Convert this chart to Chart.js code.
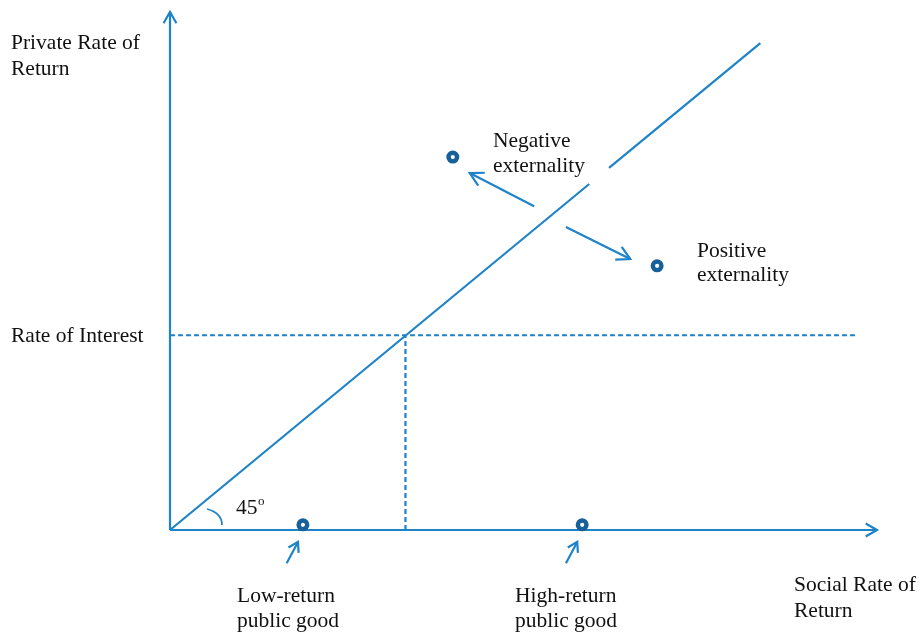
<!DOCTYPE html>
<html>
<head>
<meta charset="utf-8">
<script src="https://cdn.jsdelivr.net/npm/chart.js@4.4.0/dist/chart.umd.min.js"></script>
<style>
html,body{margin:0;padding:0;background:#fff;}
canvas{display:block;}
</style>
</head>
<body>
<canvas id="c" width="919" height="635"></canvas>
<script>
// ---- data (abstract units, axes run 0..100) ----
const diagX = [0, 59.3, null, 62.1, 83.5];
const diagY = [0, 66.8, null, 69.9, 94.0];
const interestRate = 37.6;
const interestEndX = 97.0;
const interestCrossX = 33.3;
const pointX = [40.0, 68.9, 18.8, 58.3];
const pointY = [72.0, 51.0, 1.0, 1.0];
const pointNames = ['Negative externality', 'Positive externality', 'Low-return public good', 'High-return public good'];
// arrows: tail -> head
const arrowTailX = [51.5, 56.0, 16.5, 56.0];
const arrowTailY = [62.5, 58.5, -6.4, -6.4];
const arrowHeadX = [42.4, 65.1, 18.1, 57.6];
const arrowHeadY = [68.9, 52.3, -2.3, -2.3];
const axisMax = 100;

const LINE = '#1f83c8';
const DOT = '#17609a';
const FONT = '21.5px "Liberation Serif", "Times New Roman", serif';

function xy(xs, ys) { return xs.map((x, i) => (x === null ? {x: null, y: null} : {x: x, y: ys[i]})); }

function arrowHead(ctx, x1, y1, x2, y2, len, ang) {
  const a = Math.atan2(y2 - y1, x2 - x1);
  ctx.beginPath();
  ctx.moveTo(x2 - len * Math.cos(a - ang), y2 - len * Math.sin(a - ang));
  ctx.lineTo(x2, y2);
  ctx.lineTo(x2 - len * Math.cos(a + ang), y2 - len * Math.sin(a + ang));
  ctx.stroke();
}
function arrow(ctx, x1, y1, x2, y2, len, ang) {
  ctx.beginPath(); ctx.moveTo(x1, y1); ctx.lineTo(x2, y2); ctx.stroke();
  arrowHead(ctx, x1, y1, x2, y2, len, ang);
}

const decor = {
  id: 'decor',
  beforeDatasetsDraw(chart) {
    const ctx = chart.ctx, xs = chart.scales.x, ys = chart.scales.y;
    ctx.save();
    ctx.strokeStyle = LINE; ctx.lineWidth = 2.2; ctx.lineCap = 'butt'; ctx.lineJoin = 'miter';
    const ox = xs.getPixelForValue(0), oy = ys.getPixelForValue(0);
    // axes
    arrow(ctx, ox, oy, ox, ys.getPixelForValue(axisMax), 13, 0.52);
    arrow(ctx, ox, oy, xs.getPixelForValue(axisMax), oy, 13, 0.52);
    // annotation arrows
    for (let i = 0; i < arrowTailX.length; i++) {
      const big = i < 2;
      arrow(ctx, xs.getPixelForValue(arrowTailX[i]), ys.getPixelForValue(arrowTailY[i]),
        xs.getPixelForValue(arrowHeadX[i]), ys.getPixelForValue(arrowHeadY[i]), big ? 15 : 11, big ? 0.5 : 0.55);
    }
    // 45 degree arc
    ctx.lineWidth = 1.8;
    ctx.beginPath();
    ctx.moveTo(ox + 37, oy - 21);
    ctx.quadraticCurveTo(ox + 52, oy - 17, ox + 52, oy - 5);
    ctx.stroke();
    ctx.restore();
  },
  afterDraw(chart) {
    const ctx = chart.ctx;
    ctx.save();
    ctx.fillStyle = '#111';
    ctx.font = FONT;
    ctx.textAlign = 'left';
    ctx.textBaseline = 'alphabetic';
    const T = [
      ['Private Rate of', 11, 49], ['Return', 11, 75],
      ['Rate of Interest', 11, 342],
      ['Negative', 493, 147], ['externality', 493, 172],
      ['Positive', 697, 257], ['externality', 697, 281],
      ['Low-return', 237, 602], ['public good', 237, 627],
      ['High-return', 515, 602], ['public good', 515, 627],
      ['Social Rate of', 794, 591], ['Return', 794, 617],
      ['45', 236, 514]
    ];
    T.forEach(t => ctx.fillText(t[0], t[1], t[2]));
    ctx.font = '13px "Liberation Serif", "Times New Roman", serif';
    ctx.fillText('o', 258, 505);
    ctx.restore();
  }
};

new Chart(document.getElementById('c'), {
  type: 'scatter',
  data: {
    datasets: [
      { label: 'Points', data: xy(pointX, pointY), pointRadius: 4.3, pointHoverRadius: 4.3,
        pointBorderWidth: 4.4, pointBorderColor: DOT, pointBackgroundColor: '#fff', showLine: false, order: 0, clip: false },
      { label: '45° line', data: xy(diagX, diagY), showLine: true, spanGaps: false, borderColor: LINE, borderWidth: 2.2,
        pointRadius: 0, order: 1, clip: false },
      { label: 'Rate of Interest', data: [{x: 0, y: interestRate}, {x: interestEndX, y: interestRate}], showLine: true,
        borderColor: LINE, borderWidth: 2.2, borderDash: [5, 3], pointRadius: 0, order: 2, clip: false },
      { label: 'Cross', data: [{x: interestCrossX, y: 0}, {x: interestCrossX, y: interestRate}], showLine: true,
        borderColor: LINE, borderWidth: 2.2, borderDash: [5, 3], pointRadius: 0, order: 2, clip: false }
    ]
  },
  options: {
    responsive: false,
    animation: false,
    devicePixelRatio: 1,
    layout: { padding: { left: 170, right: 42, top: 12, bottom: 105 } },
    scales: {
      x: { type: 'linear', min: 0, max: axisMax, display: false },
      y: { type: 'linear', min: 0, max: axisMax, display: false }
    },
    plugins: { legend: { display: false }, tooltip: { enabled: false } },
    events: []
  },
  plugins: [decor]
});
</script>
</body>
</html>
